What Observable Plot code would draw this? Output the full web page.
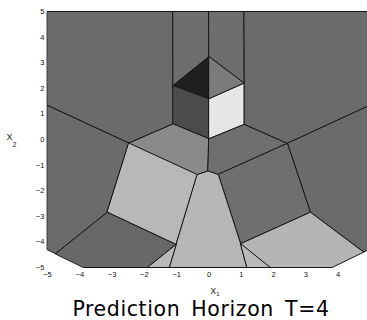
<!DOCTYPE html>
<html><head><meta charset="utf-8">
<script src="https://cdn.jsdelivr.net/npm/d3@7"></script>
<script src="https://cdn.jsdelivr.net/npm/@observablehq/plot@0.6"></script>
<style>
body{margin:0;background:#fff;overflow:hidden;}
#chart svg{display:block}
#title{font-family:"DejaVu Sans",sans-serif;font-size:20.5px;letter-spacing:0.6px;word-spacing:4px;height:20px;line-height:18px;width:367px;box-sizing:border-box;padding-left:35px;text-align:center;color:#000;white-space:nowrap}
</style></head><body>
<div id="chart"></div>
<div id="title">Prediction Horizon T=4</div>
<script>
const xTicks = [-5, -4, -3, -2, -1, 0, 1, 2, 3, 4];
const yTicks = [-5, -4, -3, -2, -1, 0, 1, 2, 3, 4, 5];

const vertexNames = ["A","B","C","D","E","P","L2","R2","M","L1","R1","O","JL","JR","LE","RE","CL","CM","CR","LL","RR","LB","RB","B1","B2","B3","B4","B5","B6","LC","LBV","RC","RBV"];
const vertexX1 = [-5, -1.11, 0, 1.09, 5, 0, -1.11, 1.09, 0, -1.11, 1.09, 0, -2.48, 2.43, -5, 5, -0.36, -0.03, 0.29, -3.15, 3.14, -1.02, 0.98, -3.88, -1.91, -1.24, 1.18, 1.90, 3.81, -5, -4.75, 5, 4.79];
const vertexX2 = [5, 5, 5, 5, 5, 3.24, 2.11, 2.2, 1.59, 0.61, 0.59, 0.03, -0.14, -0.16, 1.33, 1.34, -1.37, -1.23, -1.37, -2.84, -2.84, -4.10, -4.07, -5, -5, -5, -5, -5, -5, -4.31, -4.46, -4.27, -4.40];

const regionNames = ["topLeft","colLeft","colRight","darkTri","medTri","darkBox","whiteBox","topRight","rightBig","leftBig","centerLeft","centerRight","leftLight","rightMid","cone","leftBottomDark","leftBottomTri","rightBottomLight","rightBottomTri"];
const regionVertices = [
  ["A","B","L2","L1","JL","LE"],
  ["B","C","P","L2"],
  ["C","D","R2","P"],
  ["L2","P","M"],
  ["P","R2","M"],
  ["L2","M","O","L1"],
  ["M","R2","R1","O"],
  ["D","E","RE","JR","R1","R2"],
  ["RE","RC","RBV","RR","JR"],
  ["LE","JL","LL","LBV","LC"],
  ["JL","L1","O","CM","CL"],
  ["O","R1","JR","CR","CM"],
  ["JL","CL","LB","LL"],
  ["JR","RR","RB","CR"],
  ["CL","CM","CR","RB","B4","B3","LB"],
  ["LBV","LL","LB","B2","B1"],
  ["LB","B2","B3"],
  ["RB","RR","RBV","B6","B5"],
  ["RB","B5","B4"]
];
const regionShades = ["#6b6b6b","#6e6e6e","#6e6e6e","#1f1f1f","#7b7b7b","#4b4b4b","#e6e6e6","#6b6b6b","#6b6b6b","#6b6b6b","#8a8a8a","#6f6f6f","#b8b8b8","#6f6f6f","#b6b6b6","#686868","#b9b9b9","#b5b5b5","#bababa"];

const idx = new Map(vertexNames.map((n, i) => [n, i]));
const rows = regionVertices.flatMap((vs, r) => vs.map(v => ({
  region: regionNames[r],
  shade: regionShades[r],
  x1: vertexX1[idx.get(v)],
  x2: vertexX2[idx.get(v)]
})));

const chart = Plot.plot({
  width: 367, height: 300,
  marginLeft: 47, marginRight: -3, marginTop: 11, marginBottom: 33,
  x: {domain: [-5, 5], ticks: xTicks, label: null, tickSize: 0, tickPadding: 4},
  y: {domain: [-5, 5], ticks: yTicks, label: null, tickSize: 0, tickPadding: 3},
  color: {type: "identity"},
  style: {fontFamily: "'Liberation Sans', Arial, sans-serif", fontSize: "7.5px", color: "#111", background: "#fff", overflow: "hidden"},
  marks: [
    Plot.line(rows, {x: "x1", y: "x2", z: "region", fill: "shade", stroke: "#151515", strokeWidth: 1, curve: "linear-closed"})
  ]
});
document.getElementById("chart").appendChild(chart);

const svg = d3.select(chart);
const xl = svg.append("text").attr("x", 215).attr("y", 293.5)
  .attr("font-family", "'Liberation Sans', Arial, sans-serif").attr("font-size", 9).attr("fill", "#222");
xl.append("tspan").text("X");
xl.append("tspan").attr("dy", 2).attr("font-size", 6).text("1");
const yl = svg.append("text").attr("x", 11.5).attr("y", 140)
  .attr("font-family", "'Liberation Sans', Arial, sans-serif").attr("font-size", 9).attr("fill", "#222");
yl.append("tspan").text("X");
yl.append("tspan").attr("dy", 7).attr("font-size", 7).text("2");
</script>
</body></html>
